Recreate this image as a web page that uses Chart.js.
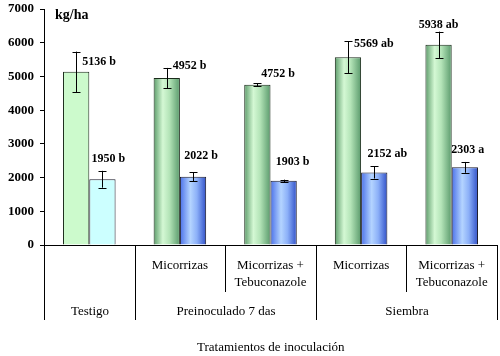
<!DOCTYPE html>
<html><head><meta charset="utf-8">
<script src="https://cdn.jsdelivr.net/npm/chart.js@4/dist/chart.umd.min.js"></script>
<style>html,body{margin:0;padding:0;background:#fff}</style>
</head><body>
<canvas id="c" width="500" height="356"></canvas>
<script>
// ---- data ----
const subCategories = ['', 'Micorrizas', 'Micorrizas +\nTebuconazole', 'Micorrizas', 'Micorrizas +\nTebuconazole'];
const groupLabels = ['Testigo', 'Preinoculado 7 das', 'Siembra'];
const groupSpans = [1, 2, 2];
const greenValues = [5136, 4952, 4752, 5569, 5938];
const greenErrors = [600, 300, 50, 480, 390];
const greenLetters = ['b', 'b', 'b', 'ab', 'ab'];
const blueValues = [1950, 2022, 1903, 2152, 2303];
const blueErrors = [250, 130, 35, 180, 160];
const blueLetters = ['b', 'b', 'b', 'ab', 'a'];
const yTickValues = [0, 1000, 2000, 3000, 4000, 5000, 6000, 7000];
const unitLabel = 'kg/ha';
const xTitle = 'Tratamientos de inoculación';

// ---- styles (label placement relative to error bar top) ----
const greenLabelStyle = [
  {align: 'left', dx: 6, dy: 10}, {align: 'left', dx: 6, dy: -2}, {align: 'left', dx: 4, dy: -9},
  {align: 'left', dx: 6, dy: 3}, {align: 'center', dx: 0, dy: -7}];
const blueLabelStyle = [
  {align: 'center', dx: 6, dy: -12}, {align: 'center', dx: 8, dy: -17}, {align: 'center', dx: 9, dy: -18},
  {align: 'center', dx: 13, dy: -12}, {align: 'center', dx: 3, dy: -12}];
const SERIF = '"Liberation Serif", serif';

const gradientPlugin = {
  id: 'grad',
  beforeDatasetsDraw(chart) {
    const ctx = chart.ctx;
    chart.data.datasets.forEach((ds, di) => {
      const meta = chart.getDatasetMeta(di);
      meta.data.forEach((el, i) => {
        let fill;
        if (i === 0) {
          fill = di === 0 ? '#ccfacc' : '#ccffff';
        } else {
          const g = ctx.createLinearGradient(el.x - el.width / 2, 0, el.x + el.width / 2, 0);
          if (di === 0) {
            g.addColorStop(0, '#5c9c6a'); g.addColorStop(0.35, '#d4f8d4');
            g.addColorStop(0.6, '#b4e4b8'); g.addColorStop(1, '#5a9a6c');
          } else {
            g.addColorStop(0, '#4a70ea'); g.addColorStop(0.4, '#b4d4ff');
            g.addColorStop(0.65, '#8cb0f8'); g.addColorStop(1, '#3050c8');
          }
          fill = g;
        }
        const o = Object.assign({}, el.options);
        o.backgroundColor = fill;
        el.options = o;
      });
    });
  }
};

const errorPlugin = {
  id: 'errs',
  afterDatasetsDraw(chart) {
    const ctx = chart.ctx, y = chart.scales.y;
    const sets = [[greenValues, greenErrors, greenLetters, greenLabelStyle], [blueValues, blueErrors, blueLetters, blueLabelStyle]];
    ctx.save();
    sets.forEach((s, di) => {
      const meta = chart.getDatasetMeta(di);
      meta.data.forEach((el, i) => {
        const v = s[0][i], e = s[1][i];
        const top = y.getPixelForValue(v + e), bot = y.getPixelForValue(v - e);
        const x = Math.round(el.x) + 0.5;
        ctx.strokeStyle = '#000'; ctx.lineWidth = 1;
        ctx.beginPath();
        ctx.moveTo(x, top); ctx.lineTo(x, bot);
        ctx.moveTo(x - 4, Math.round(top) + 0.5); ctx.lineTo(x + 4, Math.round(top) + 0.5);
        ctx.moveTo(x - 4, Math.round(bot) + 0.5); ctx.lineTo(x + 4, Math.round(bot) + 0.5);
        ctx.stroke();
        const st = s[3][i];
        ctx.fillStyle = '#000';
        ctx.font = 'bold 12px ' + SERIF;
        ctx.textAlign = st.align; ctx.textBaseline = 'middle';
        ctx.fillText(v + ' ' + s[2][i], el.x + st.dx, top + st.dy);
      });
    });
    ctx.restore();
  }
};

const axisPlugin = {
  id: 'axisX',
  afterDraw(chart) {
    const ctx = chart.ctx, xs = chart.scales.x, area = chart.chartArea;
    const n = subCategories.length;
    const w = (area.right - area.left) / n;
    const b = i => Math.round(area.left + i * w) + 0.5;
    ctx.save();
    ctx.strokeStyle = '#000'; ctx.lineWidth = 1;
    ctx.beginPath();
    ctx.moveTo(area.left, area.bottom + 0.5); ctx.lineTo(b(n), area.bottom + 0.5);
    let acc = 0;
    const groupBounds = [0];
    groupSpans.forEach(sp => { acc += sp; groupBounds.push(acc); });
    for (let i = 0; i <= n; i++) {
      const full = groupBounds.includes(i);
      ctx.moveTo(b(i), area.bottom); ctx.lineTo(b(i), area.bottom + (full ? 75 : 47));
    }
    ctx.stroke();
    ctx.fillStyle = '#000';
    ctx.font = '13px ' + SERIF;
    ctx.textAlign = 'center'; ctx.textBaseline = 'middle';
    subCategories.forEach((lab, i) => {
      const cx = xs.getPixelForValue(i);
      lab.split('\n').forEach((line, k) => ctx.fillText(line, cx, area.bottom + 21 + k * 17));
    });
    groupLabels.forEach((lab, g) => {
      const cx = (b(groupBounds[g]) + b(groupBounds[g + 1])) / 2;
      ctx.fillText(lab, cx, area.bottom + 67);
    });
    ctx.fillText(xTitle, (area.left + b(n)) / 2, area.bottom + 103);
    ctx.font = 'bold 14px ' + SERIF;
    ctx.textAlign = 'left';
    ctx.fillText(unitLabel, 55, 15);
    ctx.restore();
  }
};

function build() {
  new Chart(document.getElementById('c'), {
    type: 'bar',
    data: {
      labels: subCategories,
      datasets: [
        {data: greenValues, backgroundColor: '#ccfacc', borderColor: '#1a2a1a', borderWidth: 1, categoryPercentage: 0.58, barPercentage: 1},
        {data: blueValues, backgroundColor: '#ccffff', borderColor: '#1a1a2a', borderWidth: 1, categoryPercentage: 0.58, barPercentage: 1}
      ]
    },
    options: {
      responsive: false, animation: false, devicePixelRatio: 1,
      layout: {padding: {top: 9, right: 3, bottom: 111, left: 0}},
      plugins: {legend: {display: false}, tooltip: {enabled: false}},
      scales: {
        x: {display: false},
        y: {
          min: 0, max: 7000,
          afterBuildTicks: s => { s.ticks = yTickValues.map(v => ({value: v})); },
          afterFit: s => { s.width = 44; s.paddingTop = 2; s.paddingBottom = 2; },
          ticks: {color: '#000', font: {family: SERIF, size: 13, weight: 'bold'}, padding: 6,
                  callback: v => String(v)},
          grid: {drawOnChartArea: false, drawTicks: true, tickLength: 4, color: '#000'},
          border: {color: '#000', width: 1}
        }
      }
    },
    plugins: [gradientPlugin, errorPlugin, axisPlugin]
  });
}
Promise.all([
  document.fonts.load('13px "Liberation Serif"'),
  document.fonts.load('bold 13px "Liberation Serif"')
]).then(build, build);
</script>
</body></html>
